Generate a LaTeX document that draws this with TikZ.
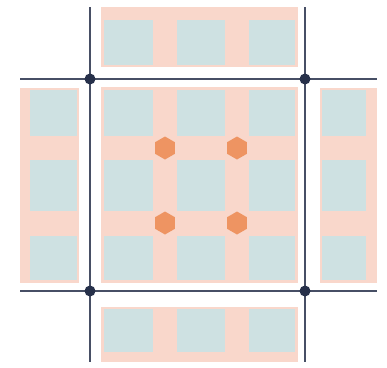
\documentclass[tikz,border=0pt]{standalone}
\usetikzlibrary{shapes.geometric}
\definecolor{pinkbg}{HTML}{F9D7CB}
\definecolor{tealsq}{HTML}{CEE1E2}
\definecolor{hexorange}{HTML}{EE9462}
\definecolor{navy}{HTML}{26304A}
\tikzset{
  bg/.style={fill=pinkbg, draw=none},
  sq/.style={fill=tealsq, draw=none},
  gridline/.style={draw=navy!85, line width=1.1pt},
  jdot/.style={circle, fill=navy, inner sep=0pt, minimum size=11pt},
  hexnode/.style={regular polygon, regular polygon sides=6, shape border rotate=30, fill=hexorange, inner sep=0pt, minimum size=23pt}
}
\begin{document}
\begin{tikzpicture}[x=1pt,y=-1pt]
\useasboundingbox (0,0) rectangle (387,367);
% central block
\fill[bg] (101,87) rectangle (298,283);
\foreach \xa/\xb in {104/153,177/225,249/295}{
  \foreach \ya/\yb in {90/136,160/211,236/280}{
    \fill[sq] (\xa,\ya) rectangle (\xb,\yb);
  }
}
% top block
\fill[bg] (101,7) rectangle (298,67);
\foreach \xa/\xb in {104/153,177/225,249/295}{
  \fill[sq] (\xa,20) rectangle (\xb,65);
}
% bottom block
\fill[bg] (101,307) rectangle (298,362);
\foreach \xa/\xb in {104/153,177/225,249/295}{
  \fill[sq] (\xa,309) rectangle (\xb,352);
}
% left block
\fill[bg] (20,88) rectangle (79,283);
\foreach \ya/\yb in {90/136,160/211,236/280}{
  \fill[sq] (30,\ya) rectangle (77,\yb);
}
% right block
\fill[bg] (320,88) rectangle (377,283);
\foreach \ya/\yb in {90/136,160/211,236/280}{
  \fill[sq] (322,\ya) rectangle (366,\yb);
}
% grid lines
\coordinate (vlt) at (90,7);   \coordinate (vlb) at (90,362);
\coordinate (vrt) at (305,7);  \coordinate (vrb) at (305,362);
\coordinate (htl) at (20,79);  \coordinate (htr) at (377,79);
\coordinate (hbl) at (20,291); \coordinate (hbr) at (377,291);
\draw[gridline] (vlt) -- (vlb);
\draw[gridline] (vrt) -- (vrb);
\draw[gridline] (htl) -- (htr);
\draw[gridline] (hbl) -- (hbr);
% junction dots
\node[jdot] (d1) at (90,79) {};
\node[jdot] (d2) at (305,79) {};
\node[jdot] (d3) at (90,291) {};
\node[jdot] (d4) at (305,291) {};
% hexagons
\node[hexnode] (h1) at (165,148) {};
\node[hexnode] (h2) at (237,148) {};
\node[hexnode] (h3) at (165,223) {};
\node[hexnode] (h4) at (237,223) {};
\end{tikzpicture}
\end{document}
